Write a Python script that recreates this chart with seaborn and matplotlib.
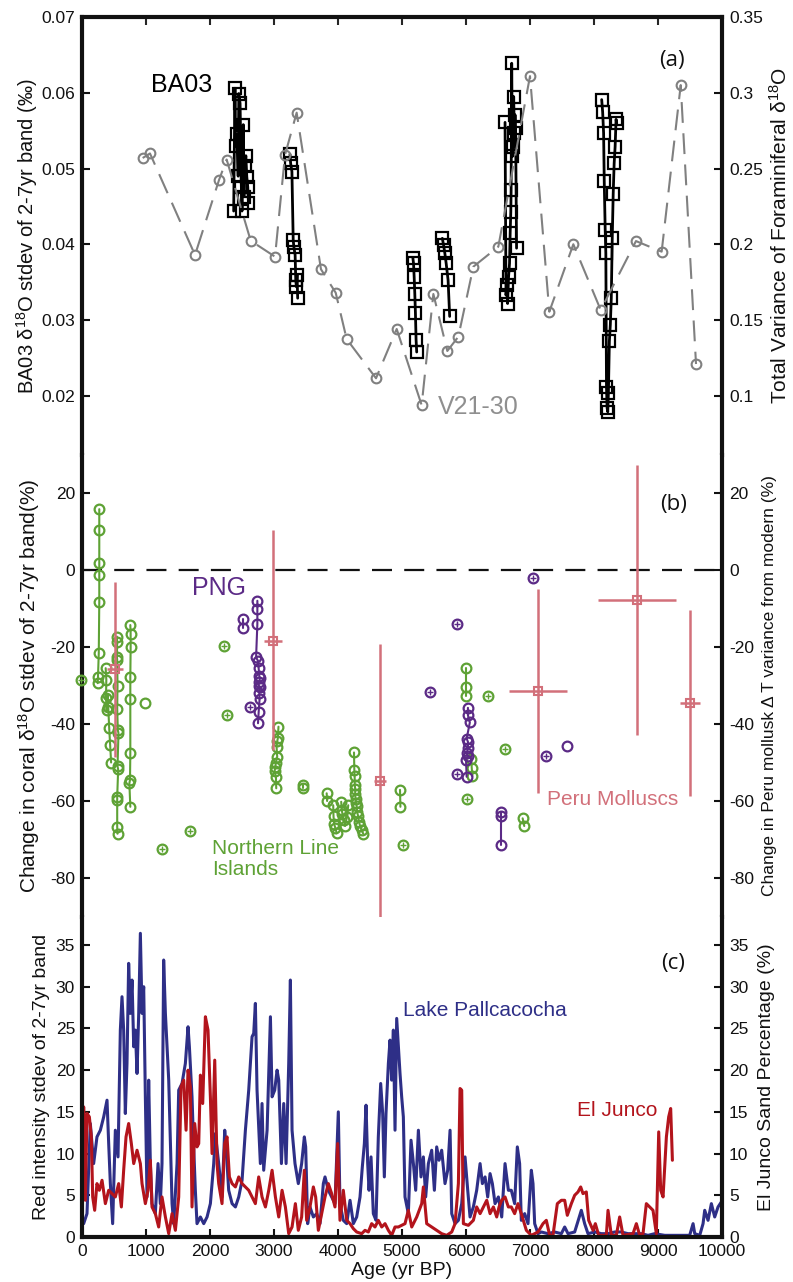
import numpy as np
import pandas as pd
import seaborn as sns
import matplotlib
matplotlib.use("Agg")
import matplotlib.pyplot as plt

sns.set_style("ticks")
plt.rcParams["font.family"] = ["Liberation Sans", "DejaVu Sans"]
plt.rcParams["mathtext.fontset"] = "custom"
plt.rcParams["mathtext.rm"] = "Liberation Sans"
plt.rcParams["mathtext.default"] = "regular"
plt.rcParams["axes.unicode_minus"] = False

GRAY = "#808080"
GREEN = "#5ea235"
PURPLE = "#5b2a86"
PINK = "#d2707a"
BLUE = "#2e2f87"
RED = "#b3141c"
INK = "#111111"

# --- (a) BA03 coral, segments of (age, stdev)
ba03_segments = [
    ([2370, 2390, 2400, 2420, 2440, 2450, 2470, 2490, 2500, 2520, 2530, 2545, 2560, 2575, 2590, 2600],
     [0.0444, 0.0606, 0.0530, 0.0545, 0.0490, 0.0599, 0.0586, 0.0476, 0.0444, 0.0558, 0.0463, 0.0503,
      0.0517, 0.0489, 0.0476, 0.0455]),
    ([3250, 3260, 3280, 3300, 3310, 3330, 3340, 3350, 3360, 3370],
     [0.0519, 0.0507, 0.0496, 0.0406, 0.0397, 0.0386, 0.0353, 0.0344, 0.0360, 0.0329]),
    ([5170, 5180, 5190, 5200, 5210, 5220, 5230],
     [0.0382, 0.0375, 0.0357, 0.0335, 0.0309, 0.0274, 0.0258]),
    ([5630, 5650, 5670, 5690, 5720, 5745],
     [0.0408, 0.0399, 0.0388, 0.0375, 0.0353, 0.0305]),
    ([6610, 6625, 6640, 6650, 6665, 6680, 6690, 6700, 6705, 6714, 6725, 6735, 6745, 6755, 6766, 6775, 6790],
     [0.0561, 0.0333, 0.0346, 0.0322, 0.0357, 0.0375, 0.0415, 0.0443, 0.0472, 0.0639, 0.0516, 0.0529,
      0.0595, 0.0547, 0.0571, 0.0553, 0.0395]),
    ([8120, 8135, 8150, 8160, 8175, 8185, 8195, 8205, 8215, 8225, 8240, 8255, 8270, 8285, 8300, 8315,
      8330, 8345, 8355],
     [0.0591, 0.0575, 0.0547, 0.0483, 0.0419, 0.0388, 0.0212, 0.0184, 0.0179, 0.0204, 0.0272, 0.0294,
      0.0329, 0.0408, 0.0467, 0.0507, 0.0529, 0.0565, 0.0560]),
]

# --- (a) V21-30 foraminifera variance
v21_age = [948, 1062, 1766, 2141, 2260, 2636, 3016, 3172, 3354, 3734, 3964, 4135, 4594, 4917,
           5307, 5490, 5708, 5880, 6115, 6505, 7000, 7302, 7677, 8105, 8656, 9057, 9355, 9594]
v21_val = [0.257, 0.260, 0.193, 0.2425, 0.256, 0.2024, 0.1919, 0.259, 0.2869, 0.1836, 0.1681,
           0.1376, 0.1117, 0.1442, 0.094, 0.1673, 0.1297, 0.1391, 0.1853, 0.1985, 0.311, 0.1556,
           0.2001, 0.1567, 0.2022, 0.1952, 0.3051, 0.1211]

# --- (b) Northern Line Islands corals
green_segments = [
    ([270, 270, 270, 270, 270, 262, 250, 245], [15.8, 10.4, 1.9, -1.3, -8.2, -21.6, -27.7, -29.4]),
    ([370, 380, 375, 385, 400, 410, 425, 440, 455], [-25.5, -28.5, -33.3, -36.4, -32.5, -35.5, -41.1, -45.5, -50.0]),
    ([545, 550, 545, 550, 555, 550, 560, 570, 555, 565, 550, 550, 550, 555],
     [-17.3, -18.6, -22.5, -23.4, -30.0, -36.0, -41.6, -42.4, -51.0, -51.8, -58.9, -59.8, -66.7, -68.5]),
    ([755, 760, 760, 755, 755, 755, 750, 740, 755], [-14.3, -16.5, -20.1, -27.9, -33.4, -47.6, -54.5, -55.4, -61.5]),
    ([3070, 3060, 3050, 3040, 3050, 3030, 3020, 3010, 3030, 3035],
     [-40.7, -43.7, -44.5, -45.9, -48.5, -50.0, -51.2, -52.2, -53.7, -56.7]),
    ([3448, 3448], [-55.8, -56.6]),
    ([3823, 3830], [-58.0, -60.0]),
    ([3925, 3930, 3940, 3960, 3980], [-61.1, -64.0, -66.0, -67.1, -68.4]),
    ([4050, 4060, 4070, 4090, 4110, 4140, 4160], [-60.2, -62.3, -63.5, -65.0, -66.5, -64.1, -61.1]),
    ([4250, 4255, 4260, 4262, 4270, 4268, 4275, 4282, 4290, 4300, 4315, 4330, 4345, 4370, 4395],
     [-47.4, -51.9, -53.5, -55.8, -57.0, -58.3, -59.4, -60.5, -61.2, -62.9, -64.0, -65.5, -66.5, -67.6, -68.5]),
    ([4969, 4975], [-57.1, -61.5]),
    ([6000, 6000, 6000], [-25.4, -30.3, -32.7]),
    ([6080, 6090, 6100], [-49.0, -51.5, -53.5]),
    ([6885, 6910], [-64.5, -66.5]),
]
green_single_age = [-20, 1245, 1688, 2219, 2271, 5010, 6020, 6349, 6609]
green_single_val = [-28.6, -72.5, -67.7, -19.7, -37.7, -71.4, -59.5, -32.7, -46.6]
green_plain_age = [984]
green_plain_val = [-34.5]

# --- (b) PNG corals
purple_segments = [
    ([2740, 2740, 2740, 2720, 2750, 2760, 2770, 2780, 2770, 2760, 2780, 2770, 2775, 2760, 2750],
     [-8, -10, -14, -22.7, -23.6, -25.5, -27.5, -28.1, -29, -30, -30.3, -32, -33.4, -37, -39.8]),
    ([2510, 2510], [-12.8, -15.1]),
    ([6030, 6030, 6060, 6010, 6030, 6030, 6010, 6030, 6000, 6010],
     [-35.8, -37.7, -39.6, -43.8, -44.6, -46.3, -47.6, -48.4, -49.3, -53.7]),
    ([6542, 6542, 6542], [-62.9, -64.0, -71.4]),
]
purple_single_age = [2625, 5437, 5854, 5855, 7052, 7250]
purple_single_val = [-35.7, -31.8, -13.9, -53.1, -2.2, -48.3]
purple_plain_age = [7573]
purple_plain_val = [-45.6]

# --- (b) Peru molluscs
peru_age = np.array([516, 2990, 4656, 7130, 8677, 9500])
peru_val = np.array([-25.8, -18.4, -54.7, -31.3, -7.8, -34.6])
peru_hi = np.array([-3.0, 10.4, -19.2, -4.9, 27.3, -10.4])
peru_lo = np.array([-48.5, -46.8, -90.5, -58.0, -42.9, -58.7])
peru_xerr = np.array([120, 140, 90, 455, 610, 155])

# --- (c) Lake Pallcacocha (age, red intensity stdev)
pallcacocha = [
    (26, 1.6), (78, 2.8), (130, 13.6), (182, 8.8), (234, 12.0), (287, 12.8), (339, 14.4), (391, 16.4),
    (417, 11.2), (443, 6.4), (479, 1.6), (521, 12.8), (563, 9.6), (599, 24.8), (625, 28.8), (651, 24.8),
    (677, 14.8), (703, 20.8), (729, 32.8), (755, 26.8), (782, 30.8), (808, 22.8), (834, 24.8), (860, 19.6),
    (886, 26.8), (912, 36.4), (938, 26.8), (964, 30.0), (990, 16.8), (1016, 4.8), (1042, 18.8), (1068, 8.8),
    (1094, 4.0), (1146, 2.8), (1188, 8.8), (1224, 4.0), (1250, 8.8), (1276, 33.2), (1303, 26.8), (1329, 22.8),
    (1355, 18.8), (1381, 11.2), (1407, 4.0), (1433, 1.6), (1485, 8.8), (1511, 17.6), (1563, 18.4), (1615, 20.8),
    (1657, 25.2), (1678, 22.8), (1719, 16.8), (1745, 10.8), (1771, 5.6), (1797, 1.6), (1850, 2.4), (1902, 1.6),
    (1954, 2.4), (2006, 4.0), (2058, 8.8), (2084, 12.4), (2136, 8.8), (2188, 4.8), (2230, 12.8), (2251, 10.8),
    (2292, 5.6), (2345, 4.0), (2397, 3.6), (2449, 4.8), (2501, 6.8), (2553, 12.8), (2605, 17.6), (2657, 24.0),
    (2683, 24.4), (2709, 28.0), (2735, 17.6), (2787, 8.8), (2813, 16.0), (2839, 8.0), (2892, 12.8), (2944, 26.4),
    (2970, 16.8), (3011, 17.6), (3048, 20.0), (3074, 18.8), (3116, 8.8), (3152, 16.0), (3189, 8.8), (3230, 20.8),
    (3256, 30.8), (3282, 12.8), (3328, 8.8), (3380, 6.4), (3432, 8.8), (3474, 12.0), (3495, 10.8), (3526, 1.6),
    (3562, 3.6), (3615, 2.4), (3667, 2.8), (3719, 1.6), (3771, 6.4), (3797, 7.2), (3849, 5.6), (3901, 4.8),
    (3953, 4.0), (4005, 15.0), (4031, 4.0), (4083, 2.0), (4136, 1.6), (4188, 4.4), (4240, 1.6), (4292, 2.4),
    (4344, 4.8), (4380, 8.4), (4412, 11.2), (4438, 15.8), (4464, 8.8), (4485, 5.6), (4516, 9.6), (4552, 2.8),
    (4594, 2.0), (4630, 12.0), (4667, 18.4), (4698, 14.8), (4724, 7.2), (4750, 14.8), (4787, 20.8), (4813, 23.6),
    (4839, 18.8), (4865, 24.8), (4891, 12.8), (4917, 26.2), (4943, 22.8), (4969, 19.6), (4995, 16.8), (5021, 14.4),
    (5047, 4.8), (5099, 2.8), (5141, 11.6), (5178, 8.8), (5214, 5.6), (5256, 12.8), (5297, 7.2), (5334, 9.6),
    (5370, 4.8), (5412, 8.8), (5464, 10.4), (5506, 5.6), (5542, 10.8), (5579, 9.2), (5620, 10.4), (5672, 6.4),
    (5714, 8.0), (5751, 12.8), (5777, 2.8), (5829, 1.6), (5881, 2.0), (5933, 4.0), (5985, 9.6), (6027, 5.6),
    (6063, 2.4), (6115, 3.6), (6167, 5.6), (6220, 8.8), (6256, 6.4), (6298, 7.2), (6339, 4.8), (6376, 7.6),
    (6412, 6.4), (6454, 4.0), (6506, 4.8), (6558, 2.4), (6610, 8.8), (6662, 5.6), (6708, 5.6), (6760, 4.0),
    (6802, 10.8), (6838, 8.8), (6864, 2.0), (6917, 2.8), (6969, 1.6), (7021, 8.0), (7047, 6.4), (7073, 1.6),
    (7125, 0.4), (7177, 0.6), (7281, 0.4), (7385, 0.6), (7490, 0.4), (7542, 1.2), (7594, 0.4), (7698, 0.6),
    (7802, 3.2), (7854, 1.6), (7906, 0.4), (8011, 0.6), (8115, 0.4), (8219, 0.4), (8323, 0.6), (8427, 0.6),
    (8532, 0.4), (8636, 0.4), (8740, 0.4), (8844, 0.2), (8948, 0.4), (9105, 0.2), (9261, 0.2), (9417, 0.2),
    (9495, 0.2), (9548, 1.6), (9574, 0.4), (9652, 0.2), (9704, 1.6), (9730, 3.2), (9782, 2.0), (9834, 4.0),
    (9886, 2.4), (9938, 3.6), (9990, 4.2),
]

# --- (c) El Junco (age, sand %)
el_junco = [
    (5, 3.0), (26, 15.6), (52, 4.4), (78, 14.8), (115, 14.4), (146, 12.0), (167, 4.8), (198, 3.2), (234, 6.4),
    (271, 5.6), (313, 6.8), (365, 4.0), (417, 5.6), (469, 5.2), (521, 4.8), (573, 6.4), (615, 3.6), (651, 8.0),
    (688, 12.0), (729, 13.6), (771, 11.2), (808, 8.8), (860, 10.4), (912, 8.8), (938, 6.4), (990, 4.0),
    (1032, 5.6), (1068, 9.2), (1094, 3.6), (1146, 2.8), (1198, 1.2), (1250, 4.8), (1303, 2.4), (1355, 0.4),
    (1407, 2.8), (1459, 0.8), (1511, 4.8), (1547, 18.0), (1589, 18.8), (1626, 12.8), (1657, 20.0), (1693, 18.0),
    (1719, 3.6), (1761, 13.6), (1797, 10.8), (1824, 11.2), (1850, 19.4), (1886, 16.0), (1928, 26.4), (1969, 24.8),
    (2006, 16.8), (2032, 10.0), (2074, 21.2), (2110, 8.8), (2136, 6.4), (2188, 4.0), (2230, 11.2), (2266, 12.0),
    (2303, 7.2), (2345, 6.4), (2397, 6.0), (2449, 7.2), (2501, 6.4), (2553, 6.0), (2605, 5.6), (2657, 4.8),
    (2709, 4.0), (2761, 7.2), (2813, 4.8), (2866, 3.6), (2918, 5.6), (2970, 8.0), (3022, 4.8), (3074, 2.4),
    (3126, 5.6), (3178, 3.6), (3230, 0.4), (3282, 1.2), (3334, 4.0), (3380, 0.8), (3432, 2.4), (3474, 8.0),
    (3510, 2.0), (3562, 3.6), (3615, 6.0), (3651, 4.8), (3693, 0.8), (3745, 2.8), (3797, 4.8), (3849, 6.4),
    (3901, 5.2), (3953, 3.6), (3995, 11.2), (4031, 2.0), (4083, 5.6), (4136, 2.0), (4188, 1.6), (4240, 1.0),
    (4292, 0.6), (4370, 0.4), (4422, 0.8), (4474, 0.6), (4526, 1.6), (4578, 1.2), (4630, 2.0), (4683, 1.2),
    (4735, 1.6), (4787, 0.8), (4839, 0.2), (4891, 1.2), (4943, 1.2), (4995, 1.4), (5047, 1.6), (5099, 3.2),
    (5152, 1.2), (5230, 2.4), (5308, 4.0), (5334, 6.0), (5386, 1.6), (5464, 1.2), (5542, 0.8), (5620, 0.4),
    (5698, 0.2), (5777, 0.6), (5829, 1.6), (5881, 6.4), (5907, 17.8), (5933, 17.6), (5959, 1.6), (6037, 1.4),
    (6115, 2.0), (6167, 3.6), (6220, 2.8), (6272, 3.6), (6324, 4.4), (6376, 2.8), (6428, 3.6), (6480, 2.4),
    (6516, 3.6), (6558, 4.4), (6610, 4.8), (6662, 3.6), (6708, 3.6), (6760, 2.8), (6812, 4.0), (6864, 2.8),
    (6943, 0.8), (7021, 0.2), (7125, 0.6), (7203, 1.6), (7255, 2.0), (7307, 0.2), (7359, 0.2), (7427, 4.0),
    (7490, 4.4), (7542, 4.4), (7583, 2.6), (7646, 4.0), (7698, 5.0), (7750, 5.4), (7792, 6.0), (7828, 5.2),
    (7880, 5.4), (7917, 2.0), (7985, 0.8), (8021, 1.6), (8073, 0.2), (8193, 0.2), (8219, 3.2), (8271, 0.2),
    (8349, 0.2), (8401, 2.4), (8453, 0.2), (8610, 0.4), (8662, 1.6), (8714, 0.2), (8766, 0.4), (8818, 4.0),
    (8870, 3.6), (8922, 3.2), (8974, 0.4), (9011, 12.6), (9042, 5.6), (9079, 4.8), (9131, 12.0), (9167, 14.4),
    (9198, 15.4), (9225, 9.2),
]


def seg_frame(segments):
    return pd.concat([pd.DataFrame({"age": a, "val": v, "seg": i}) for i, (a, v) in enumerate(segments)])


fig = plt.figure(figsize=(7.93, 12.82), dpi=100)
H = 1282.0


def box(top_px, bot_px):
    return [82 / 793, 1 - bot_px / H, 640 / 793, (bot_px - top_px) / H]


ax_a = fig.add_axes(box(17, 454.5))
ax_b = fig.add_axes(box(454.5, 916.5))
ax_c = fig.add_axes(box(916.5, 1237))
tw_a, tw_b, tw_c = ax_a.twinx(), ax_b.twinx(), ax_c.twinx()

TICK = dict(direction="in", length=6, width=1.5, labelsize=12.5, pad=5, colors=INK)

for ax, tw, top, bottom in [(ax_a, tw_a, True, False), (ax_b, tw_b, False, False), (ax_c, tw_c, False, True)]:
    for name, sp in ax.spines.items():
        sp.set_linewidth(3)
        sp.set_color(INK)
        sp.set_visible(name in ("left", "right") or (name == "top" and top) or (name == "bottom" and bottom))
    for sp in tw.spines.values():
        sp.set_visible(False)
    ax.set_xlim(0, 10000)
    ax.tick_params(axis="y", left=True, right=False, **TICK)
    tw.tick_params(axis="y", right=True, **TICK)

# ---------------- panel (a)
sns.lineplot(data=seg_frame(ba03_segments), x="age", y="val", units="seg", estimator=None, sort=False,
             color="black", linewidth=2, marker="s", markersize=8.5, markerfacecolor="none",
             markeredgecolor="black", markeredgewidth=1.6, ax=ax_a, zorder=3)
sns.lineplot(x=v21_age, y=v21_val, estimator=None, sort=False, color=GRAY, linewidth=1.5,
             linestyle=(0, (10, 5)), marker="o", markersize=7, markerfacecolor="none",
             markeredgecolor=GRAY, markeredgewidth=1.5, ax=tw_a)
ax_a.set_ylim(0.07 - 437.5 / 7580, 0.07)
tw_a.set_ylim(5 * (0.07 - 437.5 / 7580), 0.35)
ax_a.set_yticks([0.02, 0.03, 0.04, 0.05, 0.06, 0.07])
ax_a.set_yticklabels(["0.02", "0.03", "0.04", "0.05", "0.06", "0.07"])
tw_a.set_yticks([0.1, 0.15, 0.2, 0.25, 0.3, 0.35])
tw_a.set_yticklabels(["0.1", "0.15", "0.2", "0.25", "0.3", "0.35"])
ax_a.set_xticks(range(1000, 10000, 1000))
ax_a.tick_params(axis="x", bottom=False, top=True, labelbottom=False, labeltop=False,
                 direction="in", length=6, width=1.5)
ax_a.text(1560, 0.0610, "BA03", fontsize=18, ha="center", va="center", color="black")
ax_a.text(5560, 0.0186, "V21-30", fontsize=18, ha="left", va="center", color="#8f8f8f")
ax_a.text(9220, 0.0643, "(a)", fontsize=16, ha="center", va="center", color=INK, family="Open Sans")
ax_a.set_ylabel("BA03 δ$^{18}$O stdev of 2-7yr band (‰)", fontsize=14.5, color=INK)
tw_a.set_ylabel("Total Variance of Foraminiferal δ$^{18}$O", fontsize=15, color=INK)
ax_a.yaxis.set_label_coords(-0.066, 0.5)
tw_a.yaxis.set_label_coords(1.074, 0.5)
ax_a.set_xlabel("")

# ---------------- panel (b)
ax_b.axhline(0, color=INK, linewidth=1.6, dashes=(9, 5.5), zorder=1)
sns.lineplot(data=seg_frame(green_segments), x="age", y="val", units="seg", estimator=None, sort=False,
             color=GREEN, linewidth=1.5, marker="o", markersize=7, markerfacecolor="none",
             markeredgecolor=GREEN, markeredgewidth=1.6, ax=ax_b, zorder=2)
sns.lineplot(data=seg_frame(purple_segments), x="age", y="val", units="seg", estimator=None, sort=False,
             color=PURPLE, linewidth=1.5, marker="o", markersize=7, markerfacecolor="none",
             markeredgecolor=PURPLE, markeredgewidth=1.6, ax=ax_b, zorder=3)
for ages, vals, col, cross in [(green_single_age, green_single_val, GREEN, True),
                               (green_plain_age, green_plain_val, GREEN, False),
                               (purple_single_age, purple_single_val, PURPLE, True),
                               (purple_plain_age, purple_plain_val, PURPLE, False)]:
    ax_b.plot(ages, vals, ls="none", marker="o", ms=7, mfc="none", mec=col, mew=1.6, clip_on=False, zorder=3)
    if cross:
        ax_b.plot(ages, vals, ls="none", marker="+", ms=5, mec=col, mew=1.0, clip_on=False, zorder=3)
ax_b.errorbar(peru_age, peru_val, yerr=[peru_val - peru_lo, peru_hi - peru_val], xerr=peru_xerr,
              fmt="none", ecolor=PINK, elinewidth=1.8, capsize=0, zorder=5)
ax_b.plot(peru_age, peru_val, ls="none", marker="s", ms=6, mfc="none", mec=PINK, mew=1.5, zorder=6)
ax_b.set_ylim(-90, 30)
tw_b.set_ylim(-90, 30)
for a in (ax_b, tw_b):
    a.set_yticks([-80, -60, -40, -20, 0, 20])
ax_b.tick_params(axis="x", bottom=False, top=False, labelbottom=False)
ax_b.text(2148, -4.7, "PNG", fontsize=18, ha="center", va="center", color=PURPLE)
ax_b.text(2031, -75.0, "Northern Line\nIslands", fontsize=15, ha="left", va="center",
          color=GREEN, linespacing=1.15)
ax_b.text(7266, -59.7, "Peru Molluscs", fontsize=15, ha="left", va="center", color=PINK)
ax_b.text(9250, 16.9, "(b)", fontsize=16, ha="center", va="center", color=INK, family="Open Sans")
ax_b.set_ylabel("Change in coral δ$^{18}$O stdev of 2-7yr band(%)", fontsize=15, color=INK)
tw_b.set_ylabel("Change in Peru mollusk Δ T variance from modern (%)", fontsize=12.5, color=INK)
ax_b.yaxis.set_label_coords(-0.062, 0.5)
tw_b.yaxis.set_label_coords(1.063, 0.5)
ax_b.set_xlabel("")

# ---------------- panel (c)
pal_age, pal_val = np.array(pallcacocha).T
jun_age, jun_val = np.array(el_junco).T
sns.lineplot(x=pal_age, y=pal_val, estimator=None, sort=False, color=BLUE, linewidth=2.2, ax=ax_c)
sns.lineplot(x=jun_age, y=jun_val, estimator=None, sort=False, color=RED, linewidth=2.2, ax=ax_c)
ymax_c = 320.5 / 8.343
ax_c.set_ylim(0, ymax_c)
tw_c.set_ylim(0, ymax_c)
for a in (ax_c, tw_c):
    a.set_yticks(range(0, 36, 5))
ax_c.set_xticks(range(0, 10001, 1000))
ax_c.set_xticklabels([str(t) for t in range(0, 10001, 1000)])
ax_c.tick_params(axis="x", bottom=True, top=False, **TICK)
ax_c.text(5016, 27.2, "Lake Pallcacocha", fontsize=15, ha="left", va="center", color=BLUE)
ax_c.text(7734, 15.2, "El Junco", fontsize=15, ha="left", va="center", color=RED)
ax_c.text(9230, 32.8, "(c)", fontsize=16, ha="center", va="center", color=INK, family="Open Sans")
ax_c.set_ylabel("Red intensity stdev of 2-7yr band", fontsize=14, color=INK)
tw_c.set_ylabel("El Junco Sand Percentage (%)", fontsize=14, color=INK)
ax_c.set_xlabel("Age (yr BP)", fontsize=14, color=INK)
ax_c.yaxis.set_label_coords(-0.05, 0.5)
tw_c.yaxis.set_label_coords(1.056, 0.5)
ax_c.xaxis.set_label_coords(0.5, -0.078)

fig.savefig("out.png", dpi=100)
